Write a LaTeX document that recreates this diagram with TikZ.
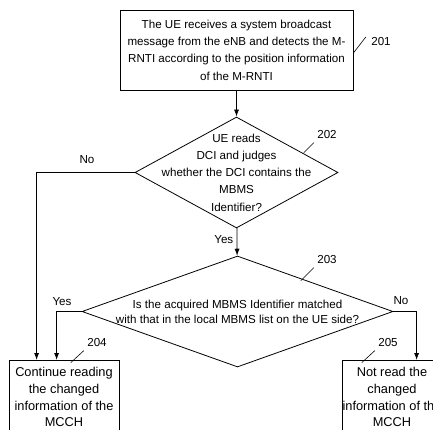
\documentclass[tikz,border=0pt]{standalone}
\usepackage{fontspec}
\setmainfont{Liberation Sans}
\usetikzlibrary{arrows.meta,calc,shapes.geometric}

\begin{document}
\begin{tikzpicture}[x=1pt,y=-1pt,
    every node/.style={font=\fontsize{11.6}{17.3}\selectfont},
    stepbox/.style={draw,line width=0.8pt,align=center,inner xsep=0pt},
    endbox/.style={stepbox,anchor=north,minimum width=110,inner ysep=7pt,
      font=\fontsize{12.8}{16.7}\selectfont},
    decision/.style={draw,diamond,line width=0.8pt,inner sep=0pt},
    flow/.style={line width=0.8pt,-{Latex[length=7pt,width=5pt]}},
    lead/.style={line width=0.6pt}]
  \clip (0,0) rectangle (433,430);
  % step 201
  \node[stepbox,minimum width=233,minimum height=80] (b201) at (236.5,50)
    {The UE receives a system broadcast\\message from the eNB and detects the M-\\RNTI according to the position information\\of the M-RNTI};
  \node (l201) at (381,42) {201};
  \draw[lead] ($(b201.east)+(0,3)$) -- ($(l201.west)+(-2,-5)$);
  % decision 202
  \node[decision,minimum width=203,minimum height=111,
    label={[align=center]center:{UE reads\\DCI and judges\\whether the DCI contains the\\MBMS\\Identifier?}}]
    (d202) at (236.5,172.5) {};
  \node (l202) at (327,135) {202};
  \draw[lead] (l202.south west) -- ++(-10,10);
  % decision 203
  \node[decision,minimum width=311,minimum height=111,
    label={[align=center,font=\fontsize{11.6}{15}\selectfont]center:{Is the acquired MBMS Identifier matched\\with that in the local MBMS list on the UE side?}}]
    (d203) at (237.5,311.5) {};
  \node (l203) at (327,260) {203};
  \draw[lead] (l203.south west) -- ++(-13,13);
  % results
  \node[endbox] (b204) at (64,360)
    {Continue reading\\the changed\\information of the\\MCCH};
  \node (l204) at (97,343) {204};
  \draw[lead] (l204.south west) -- ++(-13,12);
  \node[endbox,minimum width=100] (b205) at (392,360)
    {Not read the\\changed\\information of the\\MCCH};
  \node (l205) at (388,343) {205};
  \draw[lead] (l205.south west) -- ++(-13,12);
  % connectors
  \draw[flow] (b201) -- (d202);
  \draw[flow] (d202) -- node[left,pos=0.4] {Yes} (d203);
  \draw[flow] (d202.west) -| ([xshift=28pt]b204.north west);
  \node (no1) at (87,160) {No};
  \draw[flow] (d203.west) -| ([xshift=48pt]b204.north west);
  \node (yes2) at (62,302) {Yes};
  \draw[flow] (d203.east) -| ([xshift=75pt]b205.north west);
  \node (no2) at (401,301) {No};
\end{tikzpicture}
\end{document}
